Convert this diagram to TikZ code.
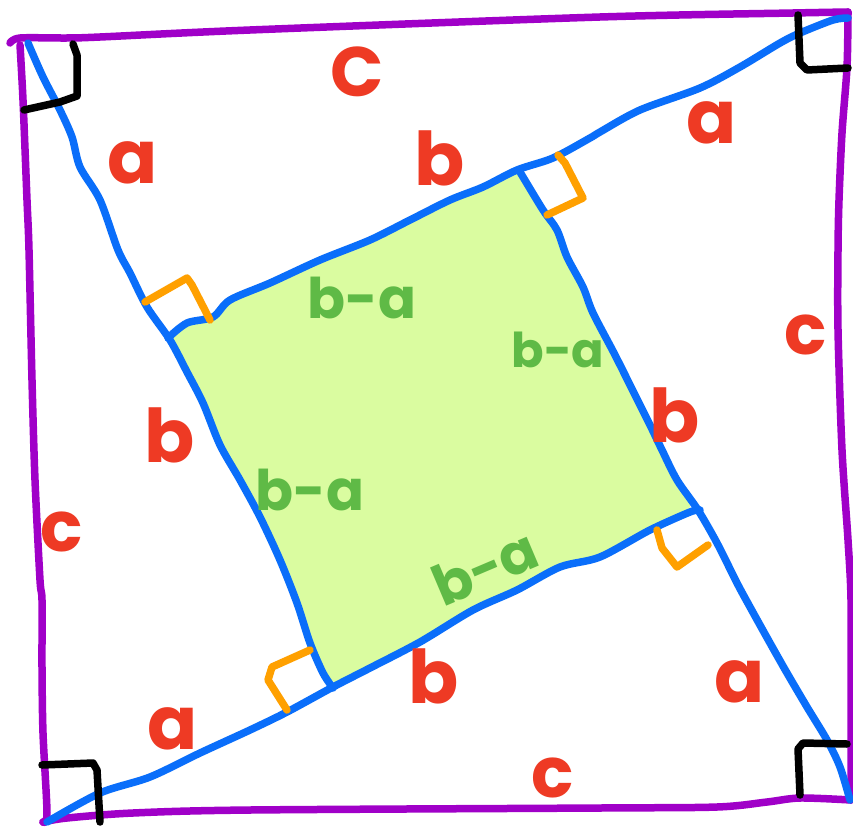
\documentclass[tikz,border=0pt]{standalone}
\usepackage{fontspec}
\newfontfamily\hand{Poppins}
\definecolor{sqpurple}{HTML}{A000C8}
\definecolor{lnblue}{HTML}{0A6EFA}
\definecolor{mkorange}{HTML}{FFA000}
\definecolor{lblred}{HTML}{EE3A24}
\definecolor{lblgreen}{HTML}{5FBA46}
\definecolor{fillgreen}{HTML}{DAFCA0}
\tikzset{
  pen/.style={line width=7.5pt, line cap=round, line join=round},
  purpleline/.style={pen, draw=sqpurple},
  blueline/.style={pen, draw=lnblue},
  blackmark/.style={pen, draw=black},
  orangemark/.style={pen, draw=mkorange},
  redlbl/.style={text=lblred, font=\hand\bfseries\fontsize{74}{74}\selectfont, inner sep=0pt},
  clbl/.style={text=lblred, font=\hand\bfseries\fontsize{70}{70}\selectfont, inner sep=0pt},
  greenlbl/.style={text=lblgreen, font=\hand\bfseries\fontsize{56}{56}\selectfont, inner sep=0pt},
}
\begin{document}
\begin{tikzpicture}[x=1pt,y=-1pt]
\useasboundingbox[fill=white] (0,0) rectangle (853,829);
% inner green square
\fill[fillgreen] plot[smooth cycle, tension=0.3] coordinates {
 (172,338) (190,325) (213,317) (230,302) (270,284) (320,262) (370,241) (410,222) (450,202) (483,188) (520,172)
 (543,210) (557,230) (567,257) (583,287) (593,313) (615,355) (635,395) (650,425) (662,450) (677,480) (690,507)
 (650,530) (600,557) (560,567) (517,590) (473,610) (420,642) (370,668) (340,684)
 (323,673) (310,643) (297,603) (280,560) (260,517) (240,480) (220,445) (203,403) (187,372)};
% outer purple square
\draw[purpleline] plot[smooth, tension=0.5] coordinates {
 (10,43) (20,38) (67,38) (100,37) (250,30) (600,17) (793,13) (848,12)};
\draw[purpleline] plot[smooth, tension=0.5] coordinates {
 (848,12) (847,67) (842,133) (839,200) (838,250) (838,330) (842,450) (848,540) (851,600) (851,700) (851,800)};
\draw[purpleline] plot[smooth, tension=0.5] coordinates {
 (851,800) (800,798) (767,802) (717,807) (600,808) (250,810) (133,813) (67,818) (43,822)};
\draw[purpleline] plot[smooth, tension=0.5] coordinates {
 (43,822) (47,813) (43,733) (42,667) (42,600) (40,580) (35,480) (32,380) (29,250) (27,200) (23,100) (20,45)};
% blue lines
\draw[blueline] plot[smooth, tension=0.5] coordinates {
 (28,43) (43,77) (60,110) (72,137) (80,167) (100,200) (118,250) (130,273) (147,307) (170,340)
 (187,372) (203,403) (220,445) (240,480) (260,517) (280,560) (297,603) (310,643) (323,673) (333,688)};
\draw[blueline] plot[smooth, tension=0.5] coordinates {
 (848,18) (833,20) (800,33) (780,43) (740,67) (700,88) (640,110) (600,132) (590,138) (553,158) (517,170)
 (483,187) (450,200) (410,220) (370,240) (320,260) (270,283) (230,300) (213,317) (187,323) (168,338)};
\draw[blueline] plot[smooth, tension=0.5] coordinates {
 (520,172) (543,210) (557,230) (567,257) (583,287) (593,313) (615,355) (635,395) (650,425) (662,450)
 (677,480) (698,510) (717,543) (737,583) (750,607) (770,643) (787,673) (807,707) (827,740) (840,767) (850,800)};
\draw[blueline] plot[smooth, tension=0.5] coordinates {
 (47,822) (100,793) (150,777) (200,753) (250,730) (287,712) (333,687) (370,668) (420,642) (473,610)
 (517,590) (560,567) (600,557) (650,530) (690,512) (700,510)};
% black right-angle marks
\draw[blackmark] (73,44) -- (77,55) -- (77,96) -- (60,102) -- (24,110);
\draw[blackmark] (798,15) -- (800,63) -- (807,70) -- (848,68);
\draw[blackmark] (42,765) -- (93,763) -- (97,770) -- (100,822);
\draw[blackmark] (800,795) -- (798,749) -- (803,743) -- (847,744);
% orange right-angle marks
\draw[orangemark] (145,302) -- (187,278) -- (192,285) -- (210,320);
\draw[orangemark] (558,155) -- (565,163) -- (583,198) -- (547,215);
\draw[orangemark] (657,530) -- (662,548) -- (677,567) -- (708,545);
\draw[orangemark] (310,650) -- (272,667) -- (268,680) -- (287,710);
% red labels
\node[clbl] (cTop) at (357,72) {C};
\node[clbl] (cRight) at (806,335) {c};
\node[clbl] (cLeft) at (62,532) {c};
\node[clbl] (cBottom) at (553,778) {c};
\node[redlbl] (aTL) at (133,163) {a};
\node[redlbl] (aTR) at (712,123) {a};
\node[redlbl] (aBL) at (173,729) {a};
\node[redlbl] (aBR) at (740,682) {a};
\node[redlbl] (bTop) at (440,158) {b};
\node[redlbl] (bLeft) at (170,435) {b};
\node[redlbl] (bRight) at (675,415) {b};
\node[redlbl] (bBottom) at (434,676) {b};
% green labels
\node[greenlbl] (baTop) at (362,298) {b-a};
\node[greenlbl, font=\hand\bfseries\fontsize{48}{48}\selectfont] (baRight) at (558,350) {b-a};
\node[greenlbl] (baLeft) at (310,490) {b-a};
\node[greenlbl, rotate=23] (baBottom) at (485,567) {b-a};
\end{tikzpicture}
\end{document}
